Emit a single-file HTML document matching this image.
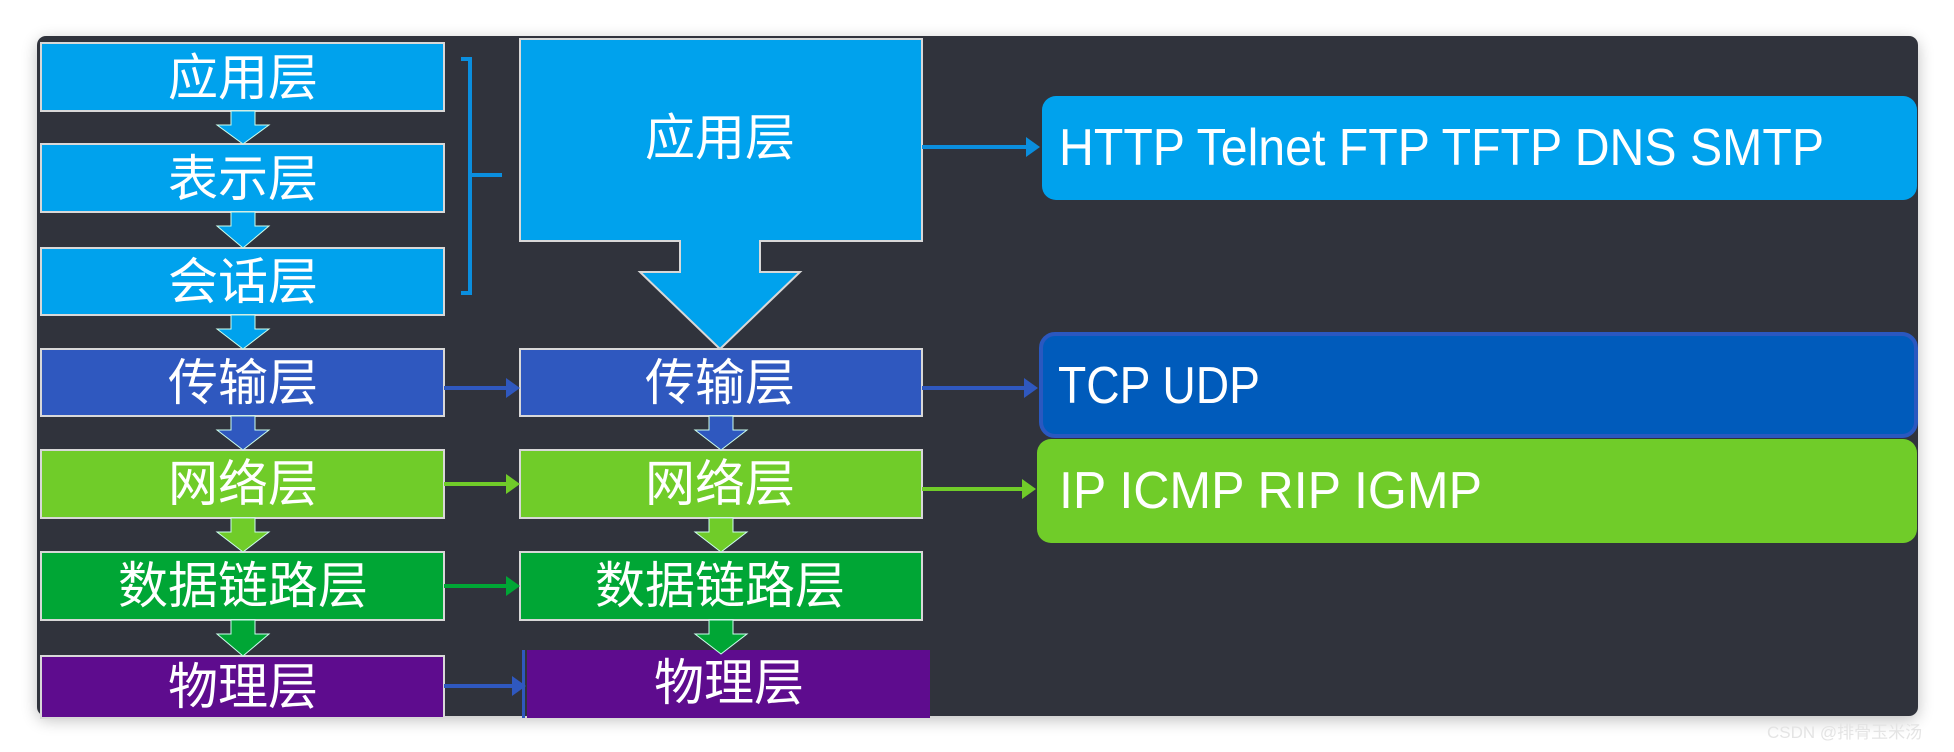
<!DOCTYPE html>
<html><head><meta charset="utf-8"><style>
html,body{margin:0;padding:0;background:#fff;width:1954px;height:752px;overflow:hidden}
svg{display:block}
text{font-family:"Liberation Sans","Noto Sans CJK SC",sans-serif;fill:#fff}
</style></head><body>
<svg width="1954" height="752" viewBox="0 0 1954 752" xmlns="http://www.w3.org/2000/svg">
<defs>
<filter id="sh" x="-5%" y="-5%" width="110%" height="110%"><feGaussianBlur stdDeviation="8"/></filter>
</defs>
<rect x="37" y="40" width="1881" height="680" rx="10" fill="#000" opacity="0.25" filter="url(#sh)"/>
<rect x="37" y="36" width="1881" height="680" rx="9" fill="#30333c"/>

<!-- left column -->
<g stroke="#d8d8d8" stroke-width="2">
<rect x="41" y="43" width="403" height="68" fill="#00a2ed"/>
<rect x="41" y="144" width="403" height="68" fill="#00a2ed"/>
<rect x="41" y="248" width="403" height="67" fill="#00a2ed"/>
<rect x="41" y="349" width="403" height="67" fill="#2f58bf"/>
<rect x="41" y="450" width="403" height="68" fill="#70cc29"/>
<rect x="41" y="552" width="403" height="68" fill="#00a635"/>
<rect x="41" y="656" width="403" height="62" fill="#5e0c8e"/>
</g>
<!-- down arrows left -->
<g stroke="#cfe" stroke-width="1">
<path d="M231 111h24v14h14l-26 19-26-19h14z" fill="#00a2ed"/>
<path d="M231 212h24v14h14l-26 22-26-22h14z" fill="#00a2ed"/>
<path d="M231 315h24v14h14l-26 20-26-20h14z" fill="#00a2ed"/>
<path d="M231 416h24v14h14l-26 20-26-20h14z" fill="#2f58bf"/>
<path d="M231 518h24v14h14l-26 20-26-20h14z" fill="#70cc29"/>
<path d="M231 620h24v14h14l-26 22-26-22h14z" fill="#00a635"/>
</g>
<g font-size="50" text-anchor="middle" dominant-baseline="central">
<text x="243" y="78">应用层</text>
<text x="243" y="179">表示层</text>
<text x="243" y="282">会话层</text>
<text x="243" y="383">传输层</text>
<text x="243" y="484">网络层</text>
<text x="243" y="586">数据链路层</text>
<text x="243" y="687">物理层</text>
</g>

<!-- bracket -->
<path d="M461 59h9v234h-9M470 175h32" fill="none" stroke="#0a8ede" stroke-width="4"/>
<path d="M470 59v234" stroke="#0a8ede" stroke-width="4"/>

<!-- middle column -->
<g stroke="#d8d8d8" stroke-width="2">
<path d="M520 39h402v202h-162v31h40l-80 77-80-77h40v-31h-160z" fill="#00a2ed"/>
<rect x="520" y="349" width="402" height="67" fill="#2f58bf"/>
<rect x="520" y="450" width="402" height="68" fill="#70cc29"/>
<rect x="520" y="552" width="402" height="68" fill="#00a635"/>
</g>
<rect x="527" y="650" width="403" height="68" fill="#5e0c8e"/>
<rect x="522" y="650" width="3" height="68" fill="#2f58bf"/>
<g stroke="#cfe" stroke-width="1">
<path d="M709 416h24v14h14l-26 20-26-20h14z" fill="#2f58bf"/>
<path d="M709 518h24v14h14l-26 20-26-20h14z" fill="#70cc29"/>
<path d="M709 620h24v14h14l-26 20-26-20h14z" fill="#00a635"/>
</g>
<g font-size="50" text-anchor="middle" dominant-baseline="central">
<text x="720" y="138">应用层</text>
<text x="720" y="383">传输层</text>
<text x="720" y="484">网络层</text>
<text x="720" y="586">数据链路层</text>
<text x="729" y="683">物理层</text>
</g>

<!-- horizontal arrows left->middle -->
<g>
<path d="M444 386h62v-8l14 10-14 10v-8h-62z" fill="#2f58bf"/>
<path d="M444 482h62v-8l14 10-14 10v-8h-62z" fill="#70cc29"/>
<path d="M444 584h62v-8l14 10-14 10v-8h-62z" fill="#00a635"/>
<path d="M444 684h68v-8l14 10-14 10v-8h-68z" fill="#2f58bf"/>
</g>
<!-- middle->right -->
<path d="M922 145h104v-8l14 10-14 10v-8h-104z" fill="#0a8ede"/>
<path d="M922 386h102v-8l14 10-14 10v-8h-102z" fill="#2f58bf"/>
<path d="M922 487h100v-8l14 10-14 10v-8h-100z" fill="#70cc29"/>

<!-- right boxes -->
<rect x="1042" y="96" width="875" height="104" rx="14" fill="#00a2ed"/>
<rect x="1041" y="334" width="875" height="102" rx="14" fill="#005bbb" stroke="#2a58c0" stroke-width="4"/>
<rect x="1037" y="439" width="880" height="104" rx="14" fill="#70cc29"/>
<g font-size="52">
<text x="1059" y="165" textLength="765" lengthAdjust="spacingAndGlyphs">HTTP Telnet FTP TFTP DNS SMTP</text>
<text x="1058" y="403" textLength="202" lengthAdjust="spacingAndGlyphs">TCP UDP</text>
<text x="1059" y="508" textLength="423" lengthAdjust="spacingAndGlyphs">IP ICMP RIP  IGMP</text>
</g>
<text x="1767" y="738" font-size="17" style="fill:#e4e4e4">CSDN @排骨玉米汤</text>
</svg>
</body></html>
